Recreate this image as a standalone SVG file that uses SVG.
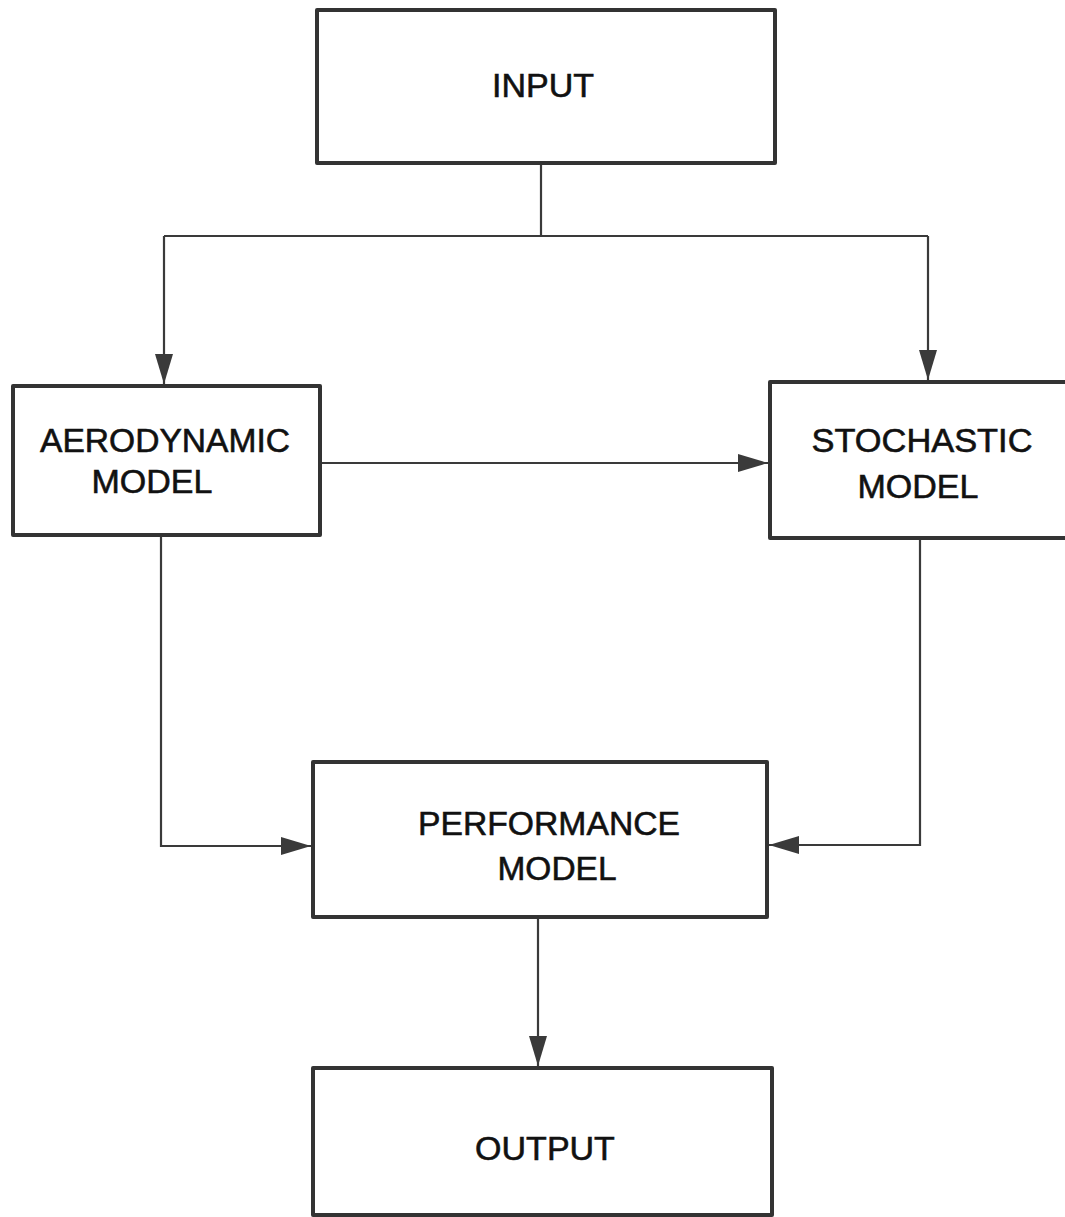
<svg xmlns="http://www.w3.org/2000/svg" width="1065" height="1217" viewBox="0 0 1065 1217">
<style>
.box{fill:#fff;stroke:#333;stroke-width:4;stroke-linejoin:round}
.lbl{font-family:"Liberation Sans",Arial,sans-serif;font-size:34px;fill:#111;stroke:#111;stroke-width:0.6;text-anchor:middle}
.conn{fill:none;stroke:#3a3a3a;stroke-width:2.2}
</style>
<defs>
<marker id="ah" viewBox="0 0 30 18" refX="30" refY="9" markerWidth="30" markerHeight="18" markerUnits="userSpaceOnUse" orient="auto">
<path d="M0,0 L30,9 L0,18 z" fill="#3a3a3a"/>
</marker>
</defs>
<rect width="1065" height="1217" fill="#fff"/>
<g id="connectors">
<path class="conn" d="M541,163 V236"/>
<path class="conn" d="M164,236 H928"/>
<path class="conn" d="M164,236 V384" marker-end="url(#ah)"/>
<path class="conn" d="M928,236 V380" marker-end="url(#ah)"/>
<path class="conn" d="M320,463 H768" marker-end="url(#ah)"/>
<path class="conn" d="M161,535 V846 H311" marker-end="url(#ah)"/>
<path class="conn" d="M920,538 V845 H769" marker-end="url(#ah)"/>
<path class="conn" d="M538,917 V1066" marker-end="url(#ah)"/>
</g>
<g id="input">
<rect class="box" x="317" y="10" width="458" height="153"/>
<text class="lbl" x="543" y="97">INPUT</text>
</g>
<g id="aerodynamic">
<rect class="box" x="13" y="386" width="307" height="149"/>
<text class="lbl" x="165" y="452" textLength="250" lengthAdjust="spacingAndGlyphs">AERODYNAMIC</text>
<text class="lbl" x="152" y="493">MODEL</text>
</g>
<g id="stochastic">
<rect class="box" x="770" y="382" width="300" height="156"/>
<text class="lbl" x="922" y="452" textLength="221" lengthAdjust="spacingAndGlyphs">STOCHASTIC</text>
<text class="lbl" x="918" y="498">MODEL</text>
</g>
<g id="performance">
<rect class="box" x="313" y="762" width="454" height="155"/>
<text class="lbl" x="549" y="835" textLength="262" lengthAdjust="spacingAndGlyphs">PERFORMANCE</text>
<text class="lbl" x="557" y="880" textLength="119" lengthAdjust="spacingAndGlyphs">MODEL</text>
</g>
<g id="output">
<rect class="box" x="313" y="1068" width="459" height="147"/>
<text class="lbl" x="545" y="1160">OUTPUT</text>
</g>
</svg>
